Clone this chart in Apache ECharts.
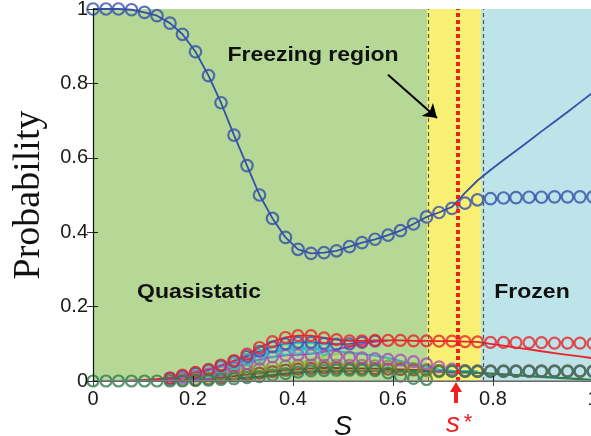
<!DOCTYPE html>
<html>
<head>
<meta charset="utf-8">
<script src="https://cdn.jsdelivr.net/npm/echarts@6/dist/echarts.min.js"></script>
<style>
  html, body { margin: 0; padding: 0; background: #fff; }
  #chart { width: 591px; height: 436px; }
</style>
</head>
<body>
<div id="chart"></div>
<script>
// sample points along s
var S = [0, 0.026, 0.051, 0.077, 0.103, 0.128, 0.154, 0.179, 0.205, 0.231,
  0.256, 0.282, 0.308, 0.333, 0.359, 0.385, 0.410, 0.436, 0.462, 0.487,
  0.513, 0.538, 0.564, 0.590, 0.615, 0.641, 0.667, 0.692, 0.718, 0.744,
  0.769, 0.795, 0.821, 0.846, 0.872, 0.897, 0.923, 0.949, 0.974, 1];

var xTicks = [0, 0.2, 0.4, 0.6, 0.8, 1];
var yTicks = [0, 0.2, 0.4, 0.6, 0.8, 1];

// regions and s*
var FREEZE_START = 0.668;
var FREEZE_END = 0.776;
var S_STAR = 0.726;

// ground state probability (circles = sampled, line = evolved)
var groundCircles = [1.000, 1.000, 1.000, 0.998, 0.991, 0.982, 0.962, 0.932, 0.885, 0.821,
  0.748, 0.661, 0.579, 0.500, 0.437, 0.386, 0.354, 0.343, 0.345, 0.350,
  0.361, 0.372, 0.381, 0.392, 0.404, 0.422, 0.441, 0.453, 0.464, 0.478,
  0.487, 0.490, 0.492, 0.493, 0.494, 0.494, 0.495, 0.495, 0.495, 0.495];
var groundLine = [1.000, 1.000, 1.000, 0.998, 0.991, 0.982, 0.962, 0.932, 0.885, 0.821,
  0.748, 0.661, 0.579, 0.500, 0.437, 0.386, 0.354, 0.343, 0.345, 0.350,
  0.361, 0.372, 0.381, 0.392, 0.404, 0.422, 0.441, 0.453, 0.468, 0.506,
  0.539, 0.567, 0.594, 0.619, 0.645, 0.671, 0.697, 0.723, 0.749, 0.776];

var redCircles = [null, null, null, null, null, null, 0.008, 0.016, 0.023, 0.031,
  0.043, 0.055, 0.072, 0.090, 0.106, 0.117, 0.122, 0.122, 0.116, 0.111,
  0.108, 0.108, 0.109, 0.109, 0.109, 0.108, 0.108, 0.107, 0.107, 0.106,
  0.105, 0.104, 0.104, 0.103, 0.103, 0.103, 0.102, 0.102, 0.102, 0.101];
var redLine = [0, 0, 0, 0.001, 0.002, 0.005, 0.008, 0.016, 0.023, 0.031,
  0.043, 0.055, 0.072, 0.090, 0.106, 0.117, 0.122, 0.122, 0.116, 0.111,
  0.108, 0.108, 0.109, 0.109, 0.109, 0.108, 0.108, 0.107, 0.107, 0.106,
  0.105, 0.100, 0.095, 0.090, 0.085, 0.080, 0.075, 0.070, 0.066, 0.061];

var blueCircles = [null, null, null, null, null, null, 0.008, 0.014, 0.021, 0.030,
  0.041, 0.053, 0.066, 0.080, 0.092, 0.100, 0.104, 0.104, 0.101, 0.099,
  0.100, 0.104, 0.107, null, null, null, null, null, null, null,
  null, null, null, null, null, null, null, null, null, null];
var blueLine = [0, 0, 0, 0.001, 0.002, 0.004, 0.008, 0.014, 0.021, 0.030,
  0.041, 0.053, 0.066, 0.080, 0.092, 0.100, 0.104, 0.104, 0.101, 0.099,
  0.100, 0.104, 0.107, null, null, null, null, null, null, null,
  null, null, null, null, null, null, null, null, null, null];

var cyanCircles = [null, null, null, null, null, null, 0.006, 0.012, 0.019, 0.027,
  0.037, 0.047, 0.058, 0.069, 0.078, 0.085, 0.088, 0.088, 0.085, null,
  null, null, null, null, null, null, null, null, null, null,
  null, null, null, null, null, null, null, null, null, null];
var cyanLine = [0, 0, 0, 0, 0.001, 0.003, 0.006, 0.012, 0.019, 0.027,
  0.037, 0.047, 0.058, 0.069, 0.078, 0.085, 0.088, 0.088, 0.085, 0.080,
  0.076, 0.073, 0.068, 0.062, 0.054, 0.046, 0.038, 0.031, 0.028, 0.027,
  0.026, null, null, null, null, null, null, null, null, null];

var magentaCircles = [null, null, null, null, null, null, 0.004, 0.008, 0.013, 0.019,
  0.027, 0.036, 0.047, 0.058, 0.065, 0.069, 0.070, 0.070, 0.068, 0.066,
  0.064, 0.062, 0.060, 0.058, 0.056, 0.052, 0.046, 0.038, 0.032, 0.028,
  0.026, 0.026, 0.026, 0.026, 0.026, 0.026, 0.026, 0.026, 0.026, 0.026];
var magentaLine = [0, 0, 0, 0, 0.001, 0.002, 0.004, 0.008, 0.013, 0.019,
  0.027, 0.036, 0.047, 0.058, 0.065, 0.069, 0.070, 0.073, 0.078, 0.085,
  0.092, 0.099, 0.105, 0.108, null, null, null, null, null, null,
  null, null, null, null, null, null, null, null, null, null];

var limeLine = [0, 0, 0, 0, 0.001, 0.002, 0.003, 0.004, 0.007, 0.011,
  0.015, 0.020, 0.025, 0.030, 0.036, 0.042, 0.048, 0.057, 0.066, 0.072,
  0.074, 0.073, 0.068, 0.061, 0.052, 0.042, 0.032, 0.026, 0.024, 0.023,
  0.022, null, null, null, null, null, null, null, null, null];

var oliveCircles = [null, null, null, null, null, null, null, 0.003, 0.005, 0.008,
  0.015, 0.022, 0.028, 0.033, 0.037, 0.040, 0.042, 0.043, 0.043, 0.043,
  0.042, 0.042, 0.041, 0.040, 0.037, 0.033, 0.030, 0.028, 0.027, 0.026,
  0.026, null, null, null, null, null, null, null, null, null];

var brownCircles = [null, null, null, null, null, null, null, null, 0.003, 0.006,
  0.009, 0.013, 0.017, 0.021, 0.025, 0.029, 0.032, 0.034, 0.035, 0.035,
  0.034, 0.034, 0.033, 0.032, 0.031, 0.030, 0.029, 0.028, 0.027, 0.027,
  0.027, 0.027, 0.027, 0.027, 0.027, 0.027, 0.027, 0.027, 0.027, 0.027];
var brownLine = [0, 0, 0, 0, 0, 0, 0, 0, 0.003, 0.006,
  0.009, 0.013, 0.017, 0.021, 0.025, 0.029, 0.032, 0.034, 0.035, 0.035,
  0.034, 0.034, 0.033, 0.032, 0.031, 0.030, 0.029, 0.028, 0.027, 0.026,
  0.025, null, null, null, null, null, null, null, null, null];

var greenCircles = [0, 0, 0, 0, 0, 0, 0, 0, 0.001, 0.002,
  0.004, 0.006, 0.009, 0.012, 0.016, 0.020, 0.024, 0.027, 0.028, 0.029,
  0.029, 0.029, 0.028, 0.022, 0.013, 0.007, 0.004, 0.025, 0.026, 0.026,
  0.026, 0.026, 0.026, 0.026, 0.026, 0.026, 0.026, 0.026, 0.026, 0.026];
var greenLine = [0, 0, 0, 0, 0, 0, 0, 0, 0.001, 0.002,
  0.004, 0.006, 0.009, 0.012, 0.016, 0.020, 0.023, 0.026, 0.027, 0.027,
  0.027, 0.027, 0.027, 0.026, 0.026, 0.026, 0.025, 0.025, 0.024, 0.023,
  0.022, 0.020, 0.018, 0.016, 0.013, 0.011, 0.009, 0.007, 0.005, 0.003];

var C = {
  ground: '#3550aa', red: '#e8232b', blue: '#4150b4', cyan: '#2cb8c9',
  magenta: '#a54db6', lime: '#9dc83a', olive: '#8a8a38', brown: '#8a3c30',
  green: '#2f7d4c'
};

var chart = echarts.init(document.getElementById('chart'));

function pts(vals) {
  var out = [];
  for (var i = 0; i < vals.length; i++) {
    if (vals[i] !== null) out.push([S[i], vals[i]]);
  }
  return out;
}
function lineSeries(vals, color, width) {
  return {
    type: 'line', data: pts(vals), symbol: 'none', silent: true,
    lineStyle: { color: color, width: width || 1.8 },
    itemStyle: { color: color }, z: 3
  };
}
function ringSeries(vals, color, size) {
  return {
    type: 'scatter', data: pts(vals), symbol: 'circle', symbolSize: size || 11,
    silent: true,
    itemStyle: { color: 'rgba(0,0,0,0)', borderColor: color, borderWidth: 2.2 },
    z: 3
  };
}

var labelFont = { fontFamily: '"Liberation Sans", Arial, sans-serif', fontSize: 20, color: '#1a1a1a' };

var bg = {
  type: 'line', data: [], silent: true,
  markArea: {
    silent: true,
    data: [
      [{ xAxis: 0, itemStyle: { color: '#b5d897' } }, { xAxis: FREEZE_START }],
      [{ xAxis: FREEZE_START, itemStyle: { color: '#f8f073' } }, { xAxis: FREEZE_END }],
      [{ xAxis: FREEZE_END, itemStyle: { color: '#bde4e9' } }, { xAxis: 1 }]
    ]
  },
  markLine: {
    silent: true, symbol: 'none', label: { show: false },
    data: [
      { xAxis: FREEZE_START, lineStyle: { color: '#555', width: 1.2, type: [4, 3] } },
      { xAxis: FREEZE_END, lineStyle: { color: '#555', width: 1.2, type: [4, 3] } },
      { xAxis: S_STAR, lineStyle: { color: '#ee2020', width: 4, type: [4, 3] } },
      [{ coord: [0.59, 0.823], lineStyle: { color: '#000', width: 2, type: 'solid' } },
       { coord: [0.688, 0.707] }]
    ]
  }
};
// arrow only on the annotation line end
bg.markLine.data[3][1].symbol = 'arrow';
bg.markLine.data[3][1].symbolSize = 13;

var option = {
  animation: false,
  grid: { left: 93, right: -2, top: 9, bottom: 55, outerBoundsMode: 'none', containLabel: false },
  xAxis: [{
    type: 'value', min: 0, max: 1, interval: 0.2, z: 6,
    name: 'S', nameLocation: 'middle', nameGap: 31,
    nameTextStyle: { fontFamily: '"Liberation Sans", Arial, sans-serif', fontSize: 27, fontStyle: 'italic', color: '#111' },
    axisLine: { lineStyle: { color: '#111', width: 1.2 } },
    axisTick: { inside: true, length: 5, lineStyle: { color: '#111' } },
    axisLabel: Object.assign({ margin: 8 }, labelFont),
    splitLine: { show: false }
  }, {
    type: 'value', position: 'top', min: 0, max: 1, interval: 0.2, z: 6,
    axisLine: { lineStyle: { color: '#888', width: 1.5 } },
    axisTick: { inside: true, length: 5, lineStyle: { color: '#444' } },
    axisLabel: { show: false }, splitLine: { show: false }
  }],
  yAxis: [{
    type: 'value', min: 0, max: 1, interval: 0.2, z: 6,
    name: 'Probability', nameLocation: 'middle', nameGap: 45, nameRotate: 90,
    nameTextStyle: { fontFamily: '"Liberation Serif", "Times New Roman", serif', fontSize: 38, color: '#111' },
    axisLine: { lineStyle: { color: '#111', width: 1.2 } },
    axisTick: { inside: true, length: 5, lineStyle: { color: '#111' } },
    axisLabel: Object.assign({ margin: 5 }, labelFont),
    splitLine: { show: false }
  }, {
    type: 'value', position: 'right', min: 0, max: 1, interval: 0.2, z: 6,
    axisLine: { lineStyle: { color: '#111' } },
    axisTick: { inside: true, length: 6, lineStyle: { color: '#333' } },
    axisLabel: { show: false }, splitLine: { show: false }
  }],
  series: [
    bg,
    lineSeries(brownLine, C.brown),
    lineSeries(limeLine, C.lime),
    lineSeries(cyanLine, C.cyan),
    lineSeries(magentaLine, C.magenta),
    lineSeries(blueLine, C.blue),
    ringSeries(brownCircles, C.brown),
    ringSeries(oliveCircles, C.olive),
    ringSeries(magentaCircles, C.magenta),
    ringSeries(cyanCircles, C.cyan),
    ringSeries(blueCircles, C.blue),
    lineSeries(redLine, C.red),
    ringSeries(redCircles, C.red),
    lineSeries(greenLine, C.green, 2.2),
    ringSeries(greenCircles, C.green),
    lineSeries(groundLine, C.ground, 1.8),
    ringSeries(groundCircles, C.ground, 11.5)
  ]
};
chart.setOption(option);

// text annotations and the s* arrow
function px(x, y) { return chart.convertToPixel({ gridIndex: 0 }, [x, y]); }
var boldFont = 'bold 20px "Liberation Sans", Arial, sans-serif';
function label(text, at) {
  var p = px(at[0], at[1]);
  return {
    type: 'text', x: p[0], y: p[1], scaleX: 1.15, z: 20, silent: true,
    style: { text: text, x: 0, y: 0, font: boldFont, fill: '#111', align: 'center', verticalAlign: 'middle' }
  };
}
var base = px(S_STAR, 0);
chart.setOption({
  graphic: [
    label('Freezing region', [0.44, 0.876]),
    label('Quasistatic', [0.212, 0.239]),
    label('Frozen', [0.878, 0.239]),
    {
      type: 'line', z: 20, silent: true,
      shape: { x1: base[0], y1: base[1] + 22, x2: base[0], y2: base[1] + 9 },
      style: { stroke: '#ee2020', lineWidth: 4 }
    },
    {
      type: 'polygon', z: 20, silent: true,
      shape: { points: [[base[0] - 6, base[1] + 11], [base[0] + 6, base[1] + 11], [base[0], base[1] + 1]] },
      style: { fill: '#ee2020' }
    },
    {
      type: 'text', z: 20, silent: true, x: base[0] - 3, y: base[1] + 57,
      style: { text: 's', font: 'italic 28px "Liberation Sans", Arial, sans-serif', fill: '#ee2020', align: 'center', verticalAlign: 'bottom' }
    },
    {
      type: 'text', z: 20, silent: true, x: base[0] + 12, y: base[1] + 53,
      style: { text: '*', font: '22px "Liberation Sans", Arial, sans-serif', fill: '#ee2020', align: 'center', verticalAlign: 'bottom' }
    }
  ]
});

window.addEventListener('resize', function () { chart.resize(); });
</script>
</body>
</html>
